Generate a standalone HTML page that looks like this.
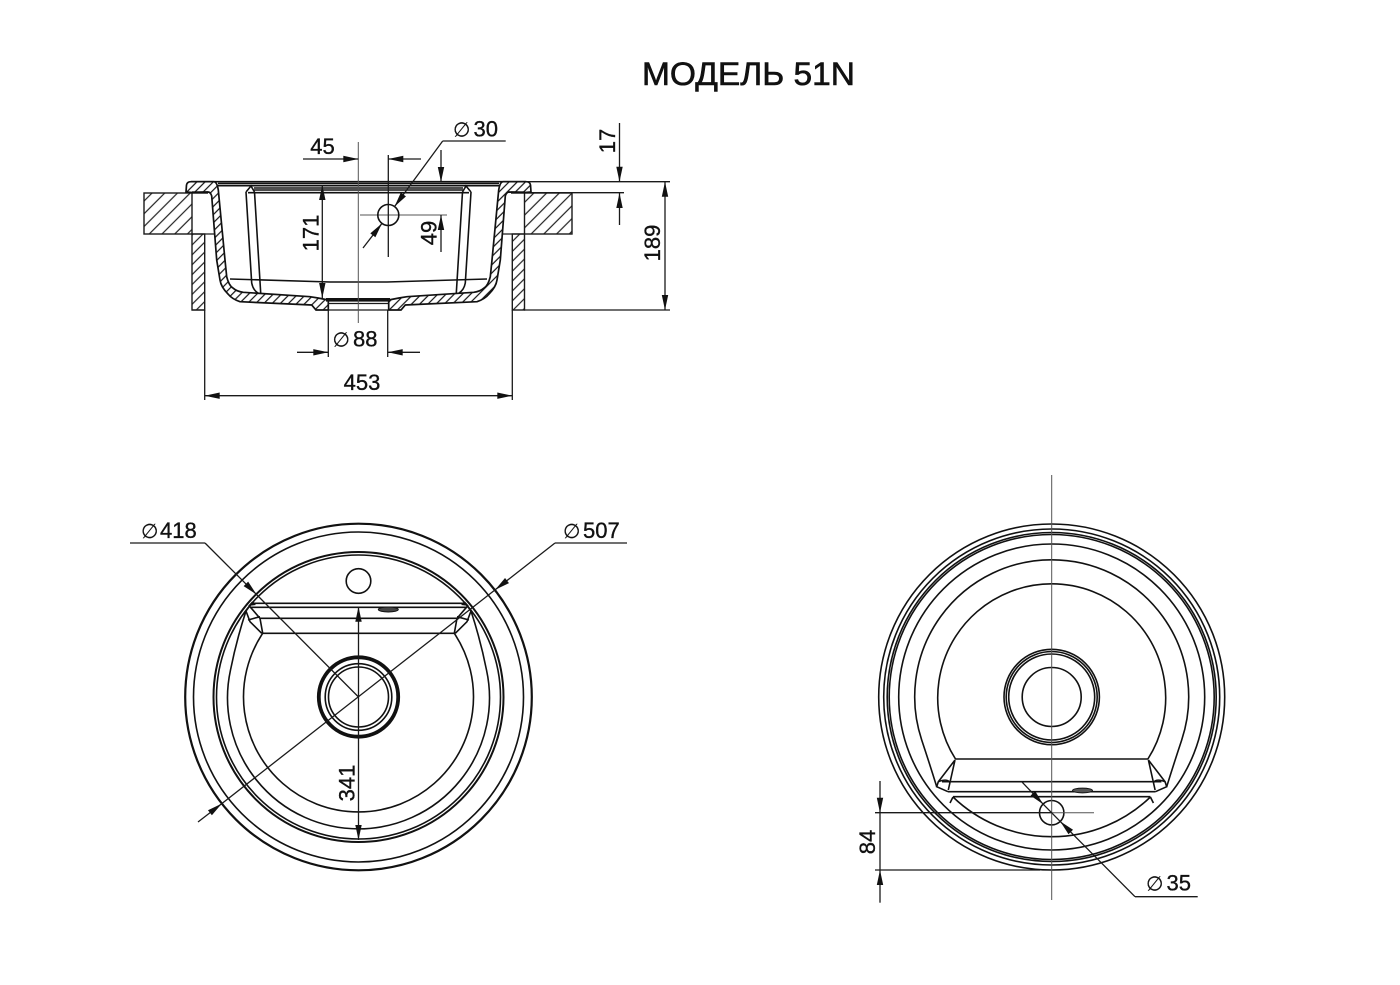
<!DOCTYPE html>
<html lang="ru"><head><meta charset="utf-8"><title>Модель 51N</title>
<style>
html,body{margin:0;padding:0;background:#fff}
svg{display:block}
text{font-family:"Liberation Sans",sans-serif;font-size:22px;fill:#111;stroke:#111;stroke-width:.35}
.d{font-family:"DejaVu Sans",sans-serif;font-size:20px;stroke-width:.2}
.t{stroke:#555;stroke-width:1;fill:none}
.m{stroke:#1a1a1a;stroke-width:1.3;fill:none}
.o{stroke:#111;stroke-width:1.6;fill:none}
.h{stroke:#111;stroke-width:1.7}
.b{stroke:#1a1a1a;stroke-width:1.4}
</style></head><body>
<svg width="1400" height="985" viewBox="0 0 1400 985" xmlns="http://www.w3.org/2000/svg">
<defs>
<marker id="a" markerUnits="userSpaceOnUse" markerWidth="18" markerHeight="8" refX="16" refY="4" orient="auto"><path d="M16,4 L1,0.8 L1,7.2 Z" fill="#111"/></marker>
<pattern id="hc" width="9" height="9" patternUnits="userSpaceOnUse" patternTransform="rotate(45)"><rect width="9" height="9" fill="#fff"/><line x1="1" y1="0" x2="1" y2="9" stroke="#222" stroke-width="1.2"/></pattern>
<pattern id="hw" width="7" height="7" patternUnits="userSpaceOnUse" patternTransform="rotate(45)"><rect width="7" height="7" fill="#fff"/><line x1="1" y1="0" x2="1" y2="7" stroke="#222" stroke-width="1.2"/></pattern>
<pattern id="hs" width="5.8" height="5.8" patternUnits="userSpaceOnUse" patternTransform="rotate(45)"><rect width="5.8" height="5.8" fill="#fff"/><line x1="1" y1="0" x2="1" y2="5.8" stroke="#111" stroke-width="1.2"/></pattern>
<pattern id="hsm" width="5.8" height="5.8" patternUnits="userSpaceOnUse" patternTransform="rotate(-45)"><rect width="5.8" height="5.8" fill="#fff"/><line x1="1" y1="0" x2="1" y2="5.8" stroke="#111" stroke-width="1.2"/></pattern>
</defs>
<rect width="1400" height="985" fill="#fff"/>

<text x="642" y="85" style="font-size:32.5px;stroke-width:.6" textLength="213" lengthAdjust="spacingAndGlyphs">МОДЕЛЬ 51N</text>

<!-- SECTION VIEW -->
<rect x="144" y="193" width="48" height="41" fill="url(#hc)" class="b"/>
<rect x="524.5" y="193" width="47.5" height="41" fill="url(#hc)" class="b"/>
<rect x="192" y="234" width="12.7" height="76" fill="url(#hw)" class="b"/>
<rect x="512.3" y="234" width="12.2" height="76" fill="url(#hw)" class="b"/>
<path class="m" d="M192,234H218M524.5,234H499"/>

<path class="o" d="M191,181.7H526M218,183.5H499M218,185.7H499M254,188H463M254,190H463M248,192.7H469"/>
<path class="m" d="M524.5,192.7H624M526,181.7H670M524,310H670M205,310H192"/>

<path class="h" fill="url(#hs)" d="M186,192 L186.5,185 Q187,181.7 191,181.7 L214,181.7 Q217,182 218.3,190 L225,260 L226.7,276.7 Q229,286 233.3,288.3 Q237,291.5 243.3,292.3 L310,296.7 L318,298 L328.3,300 L328.3,310 L316,310 L311.7,305 L240,301.7 Q232,299 228,294 Q221,287 220,280 L216.7,260 L211.7,196 Q210.5,192 208,192 L191.7,192.5 Z"/>
<g transform="translate(717,0) scale(-1,1)">
<path class="h" fill="url(#hsm)" d="M186,192 L186.5,185 Q187,181.7 191,181.7 L214,181.7 Q217,182 218.3,190 L225,260 L226.7,276.7 Q229,286 233.3,288.3 Q237,291.5 243.3,292.3 L310,296.7 L318,298 L328.3,300 L328.3,310 L316,310 L311.7,305 L240,301.7 Q232,299 228,294 Q221,287 220,280 L216.7,260 L211.7,196 Q210.5,192 208,192 L191.7,192.5 Z"/>
<path class="o" d="M246,192 L251.7,283 Q253,290 258,293 M254.5,192 L260.7,293 M246,192 L251,186 L254.5,192"/>
<path d="M192,192.5H206" stroke="#111" stroke-width="2.4"/>
</g>
<g>
<path class="o" d="M246,192 L251.7,283 Q253,290 258,293 M254.5,192 L260.7,293 M246,192 L251,186 L254.5,192"/>
<path d="M192,192.5H208" stroke="#111" stroke-width="2.4"/>
</g>
<path class="o" d="M230,279 L330,282 H387 L487,279"/>
<rect x="326" y="298" width="64" height="3.6" fill="#111"/>
<path class="m" d="M328,303.5H388M328,310H388"/>

<!-- section dims -->
<path class="t" d="M358.3,142V323M360,215H447"/>
<path class="m" d="M388.3,155V257M328.3,310V357M387.7,310V357M204.7,310V400M512.3,310V400"/>
<circle cx="388.3" cy="215" r="10.5" class="o"/>
<line class="m" x1="303" y1="159" x2="358.3" y2="159" marker-end="url(#a)"/>
<line class="m" x1="421" y1="159" x2="388.3" y2="159" marker-end="url(#a)"/>
<line class="m" x1="322.3" y1="240" x2="322.3" y2="185" marker-end="url(#a)"/>
<line class="m" x1="322.3" y1="240" x2="322.3" y2="298" marker-end="url(#a)"/>
<line class="m" x1="441" y1="150" x2="441" y2="182" marker-end="url(#a)"/>
<line class="m" x1="441" y1="252" x2="441" y2="215" marker-end="url(#a)"/>
<line class="m" x1="619.5" y1="123" x2="619.5" y2="181.7" marker-end="url(#a)"/>
<line class="m" x1="619.5" y1="225" x2="619.5" y2="193" marker-end="url(#a)"/>
<line class="m" x1="665" y1="243" x2="665" y2="181.7" marker-end="url(#a)"/>
<line class="m" x1="665" y1="243" x2="665" y2="310" marker-end="url(#a)"/>
<line class="m" x1="297" y1="352.3" x2="328.3" y2="352.3" marker-end="url(#a)"/>
<line class="m" x1="420" y1="352.3" x2="387.7" y2="352.3" marker-end="url(#a)"/>
<line class="m" x1="358" y1="395.7" x2="204.7" y2="395.7" marker-end="url(#a)"/>
<line class="m" x1="358" y1="395.7" x2="512.3" y2="395.7" marker-end="url(#a)"/>
<path class="m" d="M505.7,141H442.7"/>
<line class="m" x1="442.7" y1="141" x2="394.5" y2="206.6" marker-end="url(#a)"/>
<line class="m" x1="363" y1="248" x2="382" y2="223.4" marker-end="url(#a)"/>

<text x="322.5" y="154" text-anchor="middle">45</text>
<text class="d" x="453" y="136.5">∅</text><text x="473.5" y="136.5">30</text>
<text class="d" x="332.5" y="346.5">∅</text><text x="353" y="346.5">88</text>
<text x="362" y="390" text-anchor="middle">453</text>
<text transform="translate(318.3,233) rotate(-90)" text-anchor="middle">171</text>
<text transform="translate(436.7,233) rotate(-90)" text-anchor="middle">49</text>
<text transform="translate(615,141) rotate(-90)" text-anchor="middle">17</text>
<text transform="translate(660,243) rotate(-90)" text-anchor="middle">189</text>

<!-- TOP VIEW LEFT -->
<circle cx="358.5" cy="697" r="173.3" style="stroke-width:2.2;fill:none;stroke:#111"/>
<circle cx="358.5" cy="697" r="165" class="o"/>
<circle cx="358.5" cy="697" r="145" style="stroke-width:2;fill:none;stroke:#111"/>
<circle cx="358.5" cy="697" r="142" class="o"/>
<path class="o" d="M262.7,633.3 A115,115 0 1 0 454.3,633.3"/>
<path class="o" d="M246,611 Q236.5,640 230.5,670 A131,131 0 1 0 486.5,670 Q480.5,640 471,611"/>
<path class="o" d="M251.7,603.3H465.3M250,607.3H467M260,618.3H457M262.7,633.3H454.3"/>
<g><path class="o" d="M251.7,603.3 L246,611 L250,621.7 L261.7,633.3 M250,606.7 L260,618.3 L262.7,633.3 M248,620 L260,616.7"/><path d="M248,606 L252,601.5 L256,605 Z" fill="#111"/></g>
<g transform="translate(717,0) scale(-1,1)"><path class="o" d="M251.7,603.3 L246,611 L250,621.7 L261.7,633.3 M250,606.7 L260,618.3 L262.7,633.3 M248,620 L260,616.7"/><path d="M248,606 L252,601.5 L256,605 Z" fill="#111"/></g>
<ellipse cx="388.3" cy="609.5" rx="10" ry="2.5" fill="#444" stroke="#111"/>
<circle cx="358.5" cy="581" r="12.3" class="o"/>
<circle cx="358.5" cy="697" r="39.7" fill="none" stroke="#111" stroke-width="3.8"/>
<circle cx="358.5" cy="697" r="33.3" class="o"/>
<circle cx="358.5" cy="697" r="30" class="o"/>

<path class="m" d="M130,543H205 M555,543H627"/>
<line class="m" x1="205" y1="543" x2="256.5" y2="594.5" marker-end="url(#a)"/>
<line class="m" x1="256.5" y1="594.5" x2="358.5" y2="697"/>
<line class="m" x1="555" y1="543" x2="495.2" y2="589.8" marker-end="url(#a)"/>
<line class="m" x1="198" y1="822" x2="221.8" y2="803.6" marker-end="url(#a)"/>
<line class="m" x1="495.2" y1="589.8" x2="221.8" y2="803.6"/>
<line class="m" x1="358.5" y1="700" x2="358.5" y2="606.7" marker-end="url(#a)"/>
<line class="m" x1="358.5" y1="700" x2="358.5" y2="840" marker-end="url(#a)"/>

<text class="d" x="141" y="538">∅</text><text x="160" y="538">418</text>
<text class="d" x="563" y="538">∅</text><text x="583" y="538">507</text>
<text transform="translate(354.3,783) rotate(-90)" text-anchor="middle">341</text>

<!-- TOP VIEW RIGHT -->
<circle cx="1051.7" cy="697" r="173" class="o"/>
<circle cx="1051.7" cy="697" r="168" class="o"/>
<circle cx="1051.7" cy="697" r="164.5" class="o"/>
<circle cx="1051.7" cy="697" r="162.5" class="o"/>
<circle cx="1051.7" cy="697" r="153" class="o"/>
<path class="o" d="M955.5,759 A114,114 0 1 1 1147.9,759"/>
<path class="o" d="M936.7,786.7 Q930,765 921.7,740 A137,137 0 1 1 1181.7,740 Q1173.4,765 1166.7,786.7"/>
<path class="o" d="M953,797 L950,803 M1150.4,797 L1153.4,803 M953,797 A142.5,142.5 0 0 0 1150.4,797"/>
<path class="o" d="M955,759H1148.4M942,781.7H1161.4M948,791.7H1155.4M953,796.7H1150.4"/>
<path class="o" d="M955,760 L948.3,790 M955,760 L938.3,781.7 L936.7,786.7 L948,791.7 M938.3,781.7 Q948,778 950,783"/>
<path class="o" d="M1148.4,760 L1155.1,790 M1148.4,760 L1165.1,781.7 L1166.7,786.7 L1155.4,791.7 M1165.1,781.7 Q1155.4,778 1153.4,783"/>
<ellipse cx="1082.5" cy="790.5" rx="10" ry="2.4" fill="#555" stroke="#111"/>
<circle cx="1051.7" cy="697" r="47.7" class="o"/>
<circle cx="1051.7" cy="697" r="45.5" class="o"/>
<circle cx="1051.7" cy="697" r="43" class="o"/>
<circle cx="1051.7" cy="697" r="29.5" class="o"/>
<circle cx="1051.7" cy="812.7" r="12.2" class="o"/>

<path class="t" d="M1051.7,475V900M1051.7,812.7H1094"/>
<path class="m" d="M875,812.7H1051M875,870H1040M1197.7,896.7H1135"/>
<line class="m" x1="880" y1="781" x2="880" y2="812.7" marker-end="url(#a)"/>
<line class="m" x1="880" y1="902.7" x2="880" y2="870" marker-end="url(#a)"/>
<line class="m" x1="880" y1="812.7" x2="880" y2="870"/>
<line class="m" x1="1135" y1="896.7" x2="1060.2" y2="821.4" marker-end="url(#a)"/>
<line class="m" x1="1021.7" y1="781.7" x2="1043.2" y2="804.2" marker-end="url(#a)"/>
<line class="m" x1="1043.2" y1="804.2" x2="1060.2" y2="821.4"/>

<text transform="translate(875,842) rotate(-90)" text-anchor="middle">84</text>
<text class="d" x="1146" y="890.7">∅</text><text x="1166.5" y="890.7">35</text>
</svg>
</body></html>
